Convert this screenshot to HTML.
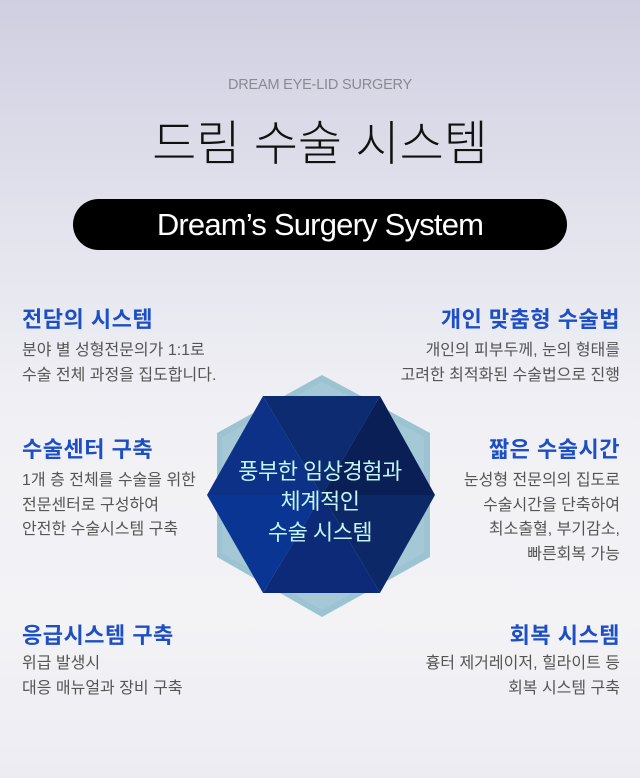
<!DOCTYPE html>
<html><head><meta charset="utf-8"><style>
*{margin:0;padding:0;box-sizing:border-box}
body{width:640px;height:778px;overflow:hidden;font-family:"Liberation Sans","Noto Sans CJK KR",sans-serif;background:linear-gradient(180deg,#cfcfe1 0%,#e4e4ee 30%,#f1f1f5 55%,#f3f3f6 80%,#ececf2 100%);position:relative}
.a{position:absolute;white-space:nowrap}
.sub{top:77px;left:0;width:640px;text-align:center;font-size:14.5px;color:#8a8a92;letter-spacing:-0.2px}
.ttl{top:104px;left:0;width:640px;text-align:center;font-size:48px;font-weight:300;color:#111;letter-spacing:0px}
.pill{top:199px;left:73px;width:494px;height:51px;border-radius:26px;background:#000;color:#fff;text-align:center;font-size:31px;line-height:51px;letter-spacing:-0.8px}
.h{font-size:22px;font-weight:bold;color:#1d4fc4;letter-spacing:0.5px}
.p{font-size:16px;color:#555;line-height:24.5px;letter-spacing:0px}
.l{left:22px}
.r{right:20px;text-align:right}
</style></head><body>
<div class="a sub">DREAM EYE-LID SURGERY</div>
<div class="a ttl">드림 수술 시스템</div>
<div class="a pill">Dream’s Surgery System</div>

<div class="a h l" style="top:302px">전담의 시스템</div>
<div class="a p l" style="top:339px">분야 별 성형전문의가 1:1로<br>수술 전체 과정을 집도합니다.</div>
<div class="a h l" style="top:432px">수술센터 구축</div>
<div class="a p l" style="top:469px">1개 층 전체를 수술을 위한<br>전문센터로 구성하여<br>안전한 수술시스템 구축</div>
<div class="a h l" style="top:618px">응급시스템 구축</div>
<div class="a p l" style="top:652px">위급 발생시<br>대응 매뉴얼과 장비 구축</div>

<div class="a h r" style="top:302px">개인 맞춤형 수술법</div>
<div class="a p r" style="top:339px">개인의 피부두께, 눈의 형태를<br>고려한 최적화된 수술법으로 진행</div>
<div class="a h r" style="top:432px">짧은 수술시간</div>
<div class="a p r" style="top:469px">눈성형 전문의의 집도로<br>수술시간을 단축하여<br>최소출혈, 부기감소,<br>빠른회복 가능</div>
<div class="a h r" style="top:618px">회복 시스템</div>
<div class="a p r" style="top:652px">흉터 제거레이저, 힐라이트 등<br>회복 시스템 구축</div>

<svg class="a" style="left:0;top:0" width="640" height="778">
<polygon points="322,375 430,433 430,557 322,617 217,557 217,433" fill="#9cc3d2"/>
<polygon points="322,382 424,437 424,553 322,610 222,553 222,437" fill="#aacbd8" opacity="0.6"/>
<g>
<polygon points="322,495 263,396 380,396" fill="#0c2b70"/>
<polygon points="322,495 380,396 435,495" fill="#0a1f55"/>
<polygon points="322,495 435,495 380,593" fill="#0c2866"/>
<polygon points="322,495 380,593 263,593" fill="#0c2a78"/>
<polygon points="322,495 263,593 207,495" fill="#0b3592"/>
<polygon points="322,495 207,495 263,396" fill="#0d3186"/>
</g>
<g font-family="Liberation Sans,Noto Sans CJK KR,sans-serif" font-size="22" fill="#c4f6f4" text-anchor="middle" letter-spacing="-0.5">
<text x="320" y="479">풍부한 임상경험과</text>
<text x="320" y="509">체계적인</text>
<text x="320" y="540">수술 시스템</text>
</g>
</svg>
</body></html>
